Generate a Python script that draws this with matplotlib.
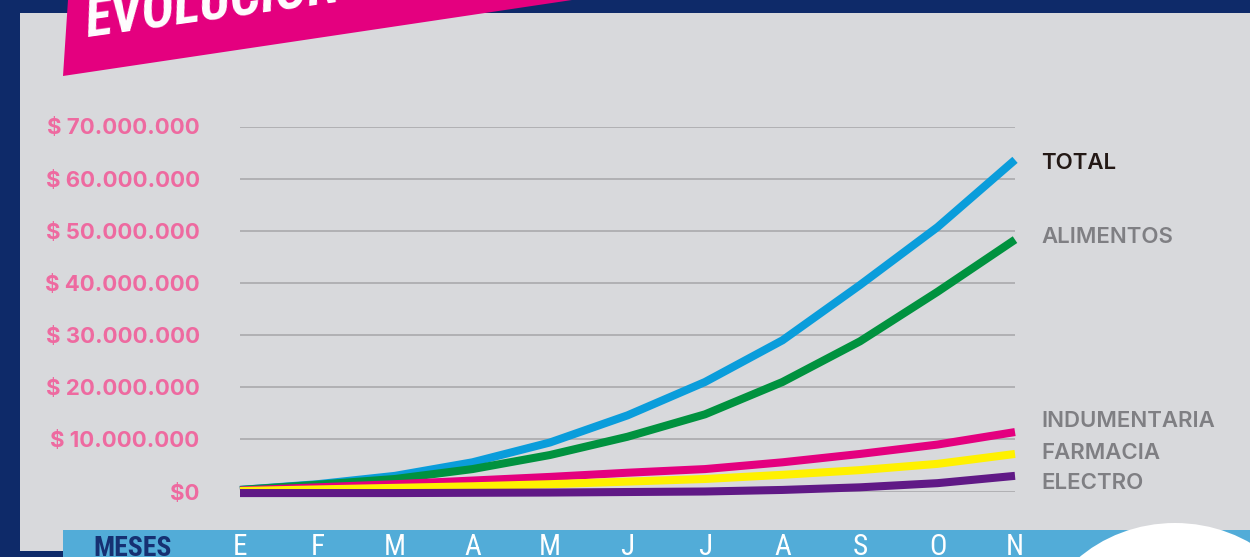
import matplotlib
matplotlib.use("Agg")
import matplotlib.pyplot as plt
from matplotlib.patches import Rectangle, Polygon, Ellipse
from matplotlib import font_manager

# data (millions of $)
months = ["E", "F", "M", "A", "M", "J", "J", "A", "S", "O", "N"]
total = [0.3, 1.4, 3.0, 5.6, 9.4, 14.6, 21.0, 29.0, 39.6, 50.7, 63.6]
alimentos = [0.3, 1.3, 2.4, 4.3, 7.0, 10.5, 14.8, 21.0, 28.8, 38.3, 48.3]
indumentaria = [0.2, 0.8, 1.4, 2.1, 2.8, 3.6, 4.3, 5.6, 7.2, 9.0, 11.4]
farmacia = [0.1, 0.4, 0.7, 1.0, 1.4, 1.9, 2.4, 3.2, 4.1, 5.3, 7.2]
electro = [-0.3, -0.3, -0.3, -0.25, -0.2, -0.1, 0.0, 0.3, 0.8, 1.6, 3.0]
yticks = [0, 10, 20, 30, 40, 50, 60, 70]
ylabels = ["$0", "$ 10.000.000", "$ 20.000.000", "$ 30.000.000",
           "$ 40.000.000", "$ 50.000.000", "$ 60.000.000", "$ 70.000.000"]

NAVY = "#0e2a69"
PANEL = "#d8d9dc"
MAGENTA = "#e4007f"

# pick a narrow face if one is installed
names_avail = {f.name for f in font_manager.fontManager.ttflist}
narrow = [n for n in ["Roboto Condensed", "Liberation Sans Narrow",
                      "DejaVu Sans Condensed"] if n in names_avail] + ["DejaVu Sans"]

W, H = 1250, 557
fig = plt.figure(figsize=(W / 100, H / 100), dpi=100)
fig.patch.set_facecolor(NAVY)

# background layer in pixel coords
bg = fig.add_axes([0, 0, 1, 1])
bg.set_xlim(0, W)
bg.set_ylim(H, 0)
bg.axis("off")
bg.add_patch(Rectangle((20, 13), W - 20, 538, color=PANEL, lw=0))
bg.add_patch(Rectangle((63, 530), W - 63, 27, color="#52acd8", lw=0))
bg.add_patch(Ellipse((1175, 650), 280, 254, color="white", lw=0))
bg.add_patch(Polygon([(68, 0), (572, 0), (63, 76)], closed=True, color=MAGENTA, lw=0))
bg.text(88, 37, "EVOLUCIÓN", color="white", fontsize=40, fontweight="bold",
        style="italic", family=narrow, stretch="condensed", rotation=8,
        rotation_mode="anchor", ha="left", va="baseline")
bg.text(93, 556, "MESES", color="#163072", fontsize=20, fontweight="bold",
        family=narrow, stretch="condensed", ha="left", va="baseline")

# chart
ax = fig.add_axes([240 / W, (H - 491.5) / H, 775 / W, 365 / H])
ax.set_facecolor("none")
x = range(len(months))
series = [
    (total, "#0a9ddb"),
    (alimentos, "#00923f"),
    (indumentaria, MAGENTA),
    (farmacia, "#fff100"),
    (electro, "#601986"),
]
for vals, col in series:
    ax.plot(x, vals, color=col, lw=5.8, solid_capstyle="butt",
            solid_joinstyle="round", clip_on=False, zorder=3)

ax.set_xlim(0, 10)
ax.set_ylim(0, 70)
ax.set_yticks(yticks)
ax.set_yticklabels(ylabels)
ax.grid(axis="y", color="#a6a6a9", lw=1.1)
ax.set_axisbelow(True)
for s in ax.spines.values():
    s.set_visible(False)
ax.tick_params(axis="y", length=0, pad=29, labelcolor="#ee6aa0", labelsize=16)
for lab in ax.get_yticklabels():
    lab.set_fontweight("bold")
    lab.set_family(["Inter", "DejaVu Sans"])

ax.set_xticks(list(x))
ax.set_xticklabels(months)
ax.tick_params(axis="x", length=0, pad=30, labelcolor="white", labelsize=21)
for lab in ax.get_xticklabels():
    lab.set_family(narrow)
    lab.set_stretch("condensed")

# series names at right
names = [("TOTAL", 169, "#231815"), ("ALIMENTOS", 243, "#7f7f83"),
         ("INDUMENTARIA", 427, "#7f7f83"), ("FARMACIA", 459, "#7f7f83"),
         ("ELECTRO", 489, "#7f7f83")]
for name, yb, col in names:
    bg.text(1041, yb, name, color=col, fontsize=16, fontweight="semibold",
            family=["Inter", "DejaVu Sans"], ha="left", va="baseline")

fig.savefig("out.png", dpi=100, facecolor=NAVY)
